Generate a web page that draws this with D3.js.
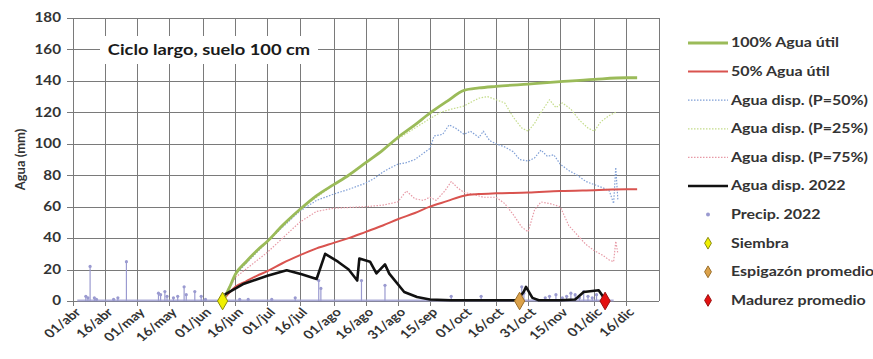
<!DOCTYPE html>
<html><head><meta charset="utf-8">
<script src="https://cdn.jsdelivr.net/npm/d3@7"></script>
<style>
html,body{margin:0;padding:0;background:#fff;}
svg{display:block;font-family:Lato,"Open Sans",sans-serif;}
</style></head>
<body><svg id="c" width="873" height="359"></svg>
<script>
// ---------- DATA ----------
const tickDates = ["2022-04-01","2022-04-16","2022-05-01","2022-05-16","2022-06-01","2022-06-16","2022-07-01","2022-07-16","2022-08-01","2022-08-16","2022-08-31","2022-09-15","2022-10-01","2022-10-16","2022-10-31","2022-11-15","2022-12-01","2022-12-16"];
const tickLabels = ["01/abr","16/abr","01/may","16/may","01/jun","16/jun","01/jul","16/jul","01/ago","16/ago","31/ago","15/sep","01/oct","16/oct","31/oct","15/nov","01/dic","16/dic"];
const yTicks = [0,20,40,60,80,100,120,140,160,180];

const util100Dates = ["2022-06-10","2022-06-13","2022-06-16","2022-06-21","2022-06-26","2022-07-01","2022-07-08","2022-07-16","2022-07-24","2022-08-01","2022-08-08","2022-08-16","2022-08-24","2022-08-31","2022-09-08","2022-09-15","2022-09-23","2022-10-01","2022-10-08","2022-10-16","2022-10-31","2022-11-15","2022-12-01","2022-12-16","2022-12-21"];
const util100 = [0,8,17,25,32,38,48,58,67,74,80,88,96,104,112,119.5,127,134,135.5,136.5,138,139.5,141,142,142];
const util50 = [0,5,9,12.5,16,19,24,29,33.5,37,40,44,48,52,56,60,63.5,67,68,68.5,69,70,70.5,71,71];

const p50Dates = ["2022-06-10","2022-06-16","2022-07-01","2022-07-16","2022-07-24","2022-08-01","2022-08-08","2022-08-16","2022-08-20","2022-08-24","2022-08-28","2022-08-31","2022-09-04","2022-09-08","2022-09-12","2022-09-15","2022-09-17","2022-09-21","2022-09-24","2022-09-27","2022-10-01","2022-10-04","2022-10-08","2022-10-10","2022-10-13","2022-10-16","2022-10-20","2022-10-24","2022-10-27","2022-10-31","2022-11-03","2022-11-06","2022-11-09","2022-11-12","2022-11-15","2022-11-19","2022-11-23","2022-11-27","2022-12-01","2022-12-05","2022-12-08","2022-12-10","2022-12-11","2022-12-12"];
const p50 = [0,17,38,57,64,68,71,75,78,82,85,87,88,90,94,97,105,106,112,110,106,108,104,108,102,100,98,95,90,89,91,96,92,93,87,83,80,76,74,72,70,62,85,64];

const p25Dates = ["2022-06-10","2022-06-16","2022-07-01","2022-07-16","2022-08-01","2022-08-16","2022-08-31","2022-09-08","2022-09-15","2022-09-20","2022-09-25","2022-10-01","2022-10-05","2022-10-08","2022-10-12","2022-10-16","2022-10-20","2022-10-24","2022-10-28","2022-10-31","2022-11-03","2022-11-06","2022-11-10","2022-11-13","2022-11-16","2022-11-20","2022-11-24","2022-11-28","2022-12-01","2022-12-04","2022-12-08","2022-12-11"];
const p25 = [0,17,38,58,74,88,103,110,116,120,122,124,127,129,130,128,126,117,110,108,113,120,128,123,126,122,115,110,108,114,118,120];

const p75Dates = ["2022-06-10","2022-06-16","2022-07-01","2022-07-16","2022-07-24","2022-08-01","2022-08-16","2022-08-24","2022-08-31","2022-09-04","2022-09-08","2022-09-12","2022-09-15","2022-09-18","2022-09-22","2022-09-25","2022-09-28","2022-10-01","2022-10-05","2022-10-10","2022-10-16","2022-10-20","2022-10-24","2022-10-28","2022-10-31","2022-11-03","2022-11-06","2022-11-10","2022-11-15","2022-11-19","2022-11-23","2022-11-27","2022-12-01","2022-12-05","2022-12-08","2022-12-10","2022-12-11","2022-12-12"];
const p75 = [0,15,31,50,57,59,60,61,63,70,65,64,66,64,70,76,72,69,68,66,66,62,55,47,44,58,63,62,60,48,42,36,32,29,26,25,38,30];

const y2022Dates = ["2022-06-11","2022-06-20","2022-07-01","2022-07-10","2022-07-17","2022-07-24","2022-07-28","2022-08-03","2022-08-08","2022-08-12","2022-08-13","2022-08-18","2022-08-21","2022-08-25","2022-08-27","2022-09-03","2022-09-09","2022-09-15","2022-09-25","2022-10-10","2022-10-26","2022-10-29","2022-10-30","2022-11-02","2022-11-05","2022-11-15","2022-11-22","2022-11-26","2022-12-03","2022-12-06"];
const y2022 = [4,11,16,19.5,17,14,30,25,20,13,27,25,17.6,23.3,17.4,5.7,2.5,1,0.5,0.5,0.5,6,9,2,0.5,0.5,1,5.7,6.8,1];

const rainDates = ["2022-04-07","2022-04-08","2022-04-09","2022-04-11","2022-04-12","2022-04-20","2022-04-22","2022-04-26","2022-05-11","2022-05-12","2022-05-14","2022-05-15","2022-05-18","2022-05-20","2022-05-23","2022-05-24","2022-05-28","2022-05-31","2022-06-02","2022-06-18","2022-06-22","2022-07-03","2022-07-14","2022-07-25","2022-07-26","2022-08-14","2022-08-25","2022-09-25","2022-10-09","2022-10-28","2022-10-29","2022-11-08","2022-11-10","2022-11-13","2022-11-16","2022-11-18","2022-11-20","2022-11-22","2022-11-24","2022-11-26","2022-11-28","2022-11-30","2022-12-02","2022-12-05"];
const rain = [3,2,22,2,1,1,2,25,5,4,6,3,2,3,9,4,6,3,1,1,1,1,2,13,8,13,10,3,3,9,5,2,3,4,2,3,5,4,2,6,3,2,4,3];
const rainSpan = ["2022-04-03","2022-12-10"];

const eventNames = ["Siembra","Espigazón promedio","Madurez promedio"];
const eventDates = ["2022-06-10","2022-10-27","2022-12-06"];
const eventValues = [0,0,0];

const legendLabels = ["100% Agua útil","50% Agua útil","Agua disp. (P=50%)","Agua disp. (P=25%)","Agua disp. (P=75%)","Agua disp. 2022","Precip. 2022","Siembra","Espigazón promedio","Madurez promedio"];
const titleText = "Ciclo largo, suelo 100 cm";
const yTitle = "Agua (mm)";

// ---------- STYLES ----------
const C = {
  g100:"#9bbb59", r50:"#d9534f", p50:"#7f9fd6", p25:"#c4dc8a", p75:"#e79aa6", y22:"#111111", rain:"#9a9ad0",
  grid:"#7a7a7a", text:"#333333"
};
const evStyle = [{fill:"#f0f000",stroke:"#8a8a10"},{fill:"#dca24a",stroke:"#9a6e2a"},{fill:"#e41010",stroke:"#9a1010"}];
const SX = 1.22; // horizontal text stretch of the original image

const parse = d3.timeParse("%Y-%m-%d");
const svg = d3.select("#c");
const L=73, R=658.5, T=18, B=301;
const x = d3.scaleTime().domain([parse("2022-04-01"), parse("2022-12-31")]).range([L,R]);
const y = d3.scaleLinear().domain([0,180]).range([B,T]);
const px = v => Math.round(v)+0.5;

// grid
const g = svg.append("g").attr("shape-rendering","crispEdges");
g.selectAll("line.h").data(yTicks).join("line")
  .attr("x1",L-6).attr("x2",R).attr("y1",d=>px(y(d))).attr("y2",d=>px(y(d)))
  .attr("stroke",C.grid).attr("stroke-width",1);
g.selectAll("line.v").data(tickDates).join("line")
  .attr("x1",d=>px(x(parse(d)))).attr("x2",d=>px(x(parse(d)))).attr("y1",T).attr("y2",B+5)
  .attr("stroke",C.grid).attr("stroke-width",1);
g.append("line").attr("x1",px(R)).attr("x2",px(R)).attr("y1",T).attr("y2",B).attr("stroke",C.grid);

// y labels
svg.append("g").selectAll("text").data(yTicks).join("text")
  .attr("transform",d=>`translate(${L-12},${y(d)}) scale(${SX},1)`)
  .attr("dy","0.35em").attr("text-anchor","end")
  .attr("font-size",12.5).attr("font-weight","bold").attr("fill",C.text).text(d=>d);
// x labels
svg.append("g").selectAll("text").data(tickDates).join("text")
  .attr("transform",(d)=>`translate(${x(parse(d))+5},${B+9}) scale(${SX},1) rotate(-45)`)
  .attr("text-anchor","end").attr("dy","0.35em")
  .attr("font-size",12).attr("font-weight","bold").attr("fill",C.text)
  .text((d,i)=>tickLabels[i]);
// y title
svg.append("text").attr("transform",`translate(20,${(T+B)/2}) rotate(-90)`)
  .attr("text-anchor","middle").attr("dy","0.35em").attr("font-size",13).attr("font-weight","bold").attr("fill",C.text).text(yTitle);

// title box
const tb = svg.append("g");
tb.append("rect").attr("x",100).attr("y",36).attr("width",218).attr("height",28).attr("fill","#fff");
tb.append("text").attr("transform",`translate(209,50) scale(${SX},1)`).attr("dy","0.35em").attr("text-anchor","middle")
  .attr("font-size",15).attr("font-weight","bold").attr("fill","#1a1a1a").text(titleText);

// precip
const rainG = svg.append("g");
rainG.append("line").attr("x1",x(parse(rainSpan[0]))).attr("x2",x(parse(rainSpan[1])))
  .attr("y1",y(0)-0.5).attr("y2",y(0)-0.5).attr("stroke",C.rain).attr("stroke-width",1.8).attr("opacity",0.8);
rainG.selectAll("line.r").data(rainDates).join("line")
  .attr("x1",d=>x(parse(d))).attr("x2",d=>x(parse(d)))
  .attr("y1",y(0)).attr("y2",(d,i)=>y(rain[i])).attr("stroke",C.rain).attr("stroke-width",1.2);
rainG.selectAll("circle").data(rainDates).join("circle")
  .attr("cx",d=>x(parse(d))).attr("cy",(d,i)=>y(rain[i])).attr("r",1.6).attr("fill",C.rain);

function drawLine(dates, vals, color, width, dash, curve){
  const pts = dates.map((d,i)=>[x(parse(d)), y(vals[i])]);
  const ln = d3.line().curve(curve||d3.curveLinear);
  const p = svg.append("path").attr("d",ln(pts)).attr("fill","none").attr("stroke",color)
    .attr("stroke-width",width).attr("stroke-linejoin","round");
  if(dash) p.attr("stroke-dasharray",dash);
}
drawLine(p75Dates,p75,C.p75,1.2,"1.5,1.5");
drawLine(p25Dates,p25,C.p25,1.2,"1.5,1.5");
drawLine(p50Dates,p50,C.p50,1.2,"1.5,1.5");
drawLine(util100Dates,util50,C.r50,2,null,d3.curveMonotoneX);
drawLine(util100Dates,util100,C.g100,2.8,null,d3.curveMonotoneX);
drawLine(y2022Dates,y2022,C.y22,2.6,null);

// event diamonds
const sym = d3.symbol().type(d3.symbolDiamond).size(90);
svg.append("g").selectAll("path").data(eventDates).join("path")
  .attr("transform",(d,i)=>`translate(${x(parse(d))},${y(eventValues[i])})`)
  .attr("d",sym).attr("fill",(d,i)=>evStyle[i].fill).attr("stroke",(d,i)=>evStyle[i].stroke).attr("stroke-width",1);

// legend
const lg = svg.append("g");
const ly0 = 43, ldy = 28.6, lx0 = 688, lx1 = 728, ltx = 731;
const lineStyles = [
  {c:C.g100,w:2.8},{c:C.r50,w:2},{c:C.p50,w:1.2,d:"1.5,1.5"},{c:C.p25,w:1.2,d:"1.5,1.5"},{c:C.p75,w:1.2,d:"1.5,1.5"},{c:C.y22,w:2.6}
];
legendLabels.forEach((lab,i)=>{
  const yy = ly0 + i*ldy;
  if(i<6){
    const s=lineStyles[i];
    const l=lg.append("line").attr("x1",lx0).attr("x2",lx1).attr("y1",yy).attr("y2",yy).attr("stroke",s.c).attr("stroke-width",s.w);
    if(s.d) l.attr("stroke-dasharray",s.d);
  } else if(i===6){
    lg.append("circle").attr("cx",(lx0+lx1)/2).attr("cy",yy).attr("r",2).attr("fill",C.rain);
  } else {
    const e=evStyle[i-7];
    lg.append("path").attr("transform",`translate(${(lx0+lx1)/2},${yy})`).attr("d",d3.symbol().type(d3.symbolDiamond).size(40))
      .attr("fill",e.fill).attr("stroke",e.stroke);
  }
  lg.append("text").attr("transform",`translate(${ltx},${yy}) scale(1.25,1)`).attr("dy","0.35em").attr("font-size",12.8)
    .attr("font-weight","bold").attr("fill",C.text).text(lab);
});
</script></body></html>
